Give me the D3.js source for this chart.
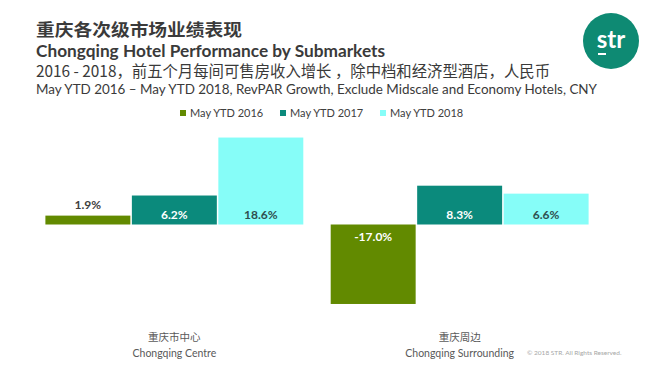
<!DOCTYPE html>
<html>
<head>
<meta charset="utf-8">
<script src="https://cdn.jsdelivr.net/npm/d3@7"></script>
<style>
  html, body { margin: 0; padding: 0; background: #ffffff; }
  svg { display: block; }
</style>
</head>
<body>
<svg id="chart" width="650" height="365"></svg>
<script>
// ---- data ----
const categories = ["Chongqing Centre", "Chongqing Surrounding"];
const categoryCN = ["重庆市中心", "重庆周边"];
const series = ["May YTD 2016", "May YTD 2017", "May YTD 2018"];
const values2016 = [1.9, -17.0];
const values2017 = [6.2, 8.3];
const values2018 = [18.6, 6.6];
const seriesValues = [values2016, values2017, values2018];

const colors = ["#628a00", "#0b8a7c", "#86fdf8"];
const labelColors = ["#404040", "#ffffff", "#2f4f4f"];
const negLabelColor = "#ffffff";

const cjk = "'Noto Sans CJK SC', 'Noto Sans', sans-serif";
const latin = "Lato, 'Open Sans', 'Noto Sans', sans-serif";

const svg = d3.select("#chart");

// ---- titles ----
svg.append("text").attr("x", 36).attr("y", 35.5)
  .attr("font-family", cjk).attr("font-weight", 700).attr("font-size", 16.5)
  .attr("fill", "#3a3a3a")
  .attr("textLength", 206).attr("lengthAdjust", "spacingAndGlyphs")
  .text("重庆各次级市场业绩表现");
svg.append("text").attr("x", 36).attr("y", 56.5)
  .attr("font-family", latin).attr("font-weight", 700).attr("font-size", 17.5)
  .attr("fill", "#3a3a3a")
  .attr("textLength", 349).attr("lengthAdjust", "spacingAndGlyphs")
  .text("Chongqing Hotel Performance by Submarkets");
svg.append("text").attr("x", 36).attr("y", 76.5)
  .attr("font-family", cjk).attr("font-size", 15.5)
  .attr("fill", "#3a3a3a")
  .attr("textLength", 514).attr("lengthAdjust", "spacingAndGlyphs")
  .text("2016 - 2018，前五个月每间可售房收入增长 ，除中档和经济型酒店，人民币");
svg.append("text").attr("x", 36).attr("y", 93.5)
  .attr("font-family", latin).attr("font-size", 13)
  .attr("fill", "#3a3a3a")
  .attr("textLength", 561).attr("lengthAdjust", "spacingAndGlyphs")
  .text("May YTD 2016 – May YTD 2018,  RevPAR Growth, Exclude Midscale and Economy Hotels, CNY");

// ---- logo ----
const logo = svg.append("g").attr("transform", "translate(611,41)");
logo.append("circle").attr("r", 28).attr("fill", "#0e8a73");
logo.append("text").attr("x", 0).attr("y", 7).attr("text-anchor", "middle")
  .attr("font-family", latin).attr("font-weight", 700).attr("font-size", 24).attr("fill", "#ffffff")
  .text("str");
logo.append("line").attr("x1", -13).attr("x2", -5).attr("y1", 13).attr("y2", 13)
  .attr("stroke", "#ffffff").attr("stroke-width", 2);

// ---- legend ----
const legend = svg.append("g").attr("transform", "translate(180,113)");
series.forEach((s, i) => {
  const g = legend.append("g").attr("transform", `translate(${i * 100},0)`);
  g.append("rect").attr("x", 0).attr("y", -3).attr("width", 6).attr("height", 6)
    .attr("fill", colors[i]);
  g.append("text").attr("x", 10).attr("y", 4)
    .attr("font-family", latin).attr("font-size", 11).attr("fill", "#404040")
    .text(s);
});

// ---- scales ----
const x0 = d3.scaleBand().domain(categories).range([31.7, 602.3])
  .paddingInner(0.096).paddingOuter(0.048);
const x1 = d3.scaleBand().domain(series).range([0, x0.bandwidth()])
  .paddingInner(0.0175);
const y = d3.scaleLinear().domain([-20, 20]).range([318, 131]);

const flat = [];
categories.forEach((c, ci) => series.forEach((s, si) => {
  flat.push({ cat: c, ser: s, si, v: seriesValues[si][ci] });
}));

// ---- bars ----
const barG = svg.append("g");
barG.selectAll("rect").data(flat).join("rect")
  .attr("x", d => x0(d.cat) + x1(d.ser))
  .attr("width", x1.bandwidth())
  .attr("y", d => Math.min(y(d.v), y(0)))
  .attr("height", d => Math.abs(y(d.v) - y(0)))
  .attr("fill", d => colors[d.si]);

// ---- value labels ----
barG.selectAll("text").data(flat).join("text")
  .attr("x", d => x0(d.cat) + x1(d.ser) + x1.bandwidth() / 2)
  .attr("y", d => {
    const h = Math.abs(y(d.v) - y(0));
    if (d.v < 0) return y(0) + 16;
    if (h < 20) return y(d.v) - 7;
    return y(0) - 5.5;
  })
  .attr("text-anchor", "middle")
  .attr("font-family", latin).attr("font-weight", 700).attr("font-size", 12)
  .attr("fill", d => {
    const h = Math.abs(y(d.v) - y(0));
    if (d.v < 0) return negLabelColor;
    if (h < 20) return "#404040";
    return labelColors[d.si];
  })
  .text(d => d.v.toFixed(1) + "%");

// ---- category axis ----
const axis = svg.append("g").attr("transform", "translate(0,325)")
  .call(d3.axisBottom(x0).tickSize(0).tickPadding(0));
axis.select(".domain").remove();
axis.selectAll(".tick text").each(function(d, i) {
  const t = d3.select(this);
  t.text(null).attr("y", 0).attr("dy", null).attr("fill", "#595959");
  t.append("tspan").attr("x", 0).attr("y", 16)
    .attr("font-family", cjk).attr("font-size", 10.5)
    .text(categoryCN[i]);
  t.append("tspan").attr("x", 0).attr("y", 32)
    .attr("font-family", latin).attr("font-size", 10.5)
    .text(d);
});

// ---- footer ----
svg.append("text").attr("x", 527).attr("y", 354.5)
  .attr("font-family", latin).attr("font-size", 6.5).attr("fill", "#a6a6a6")
  .text("© 2018 STR. All Rights Reserved.");
</script>
</body>
</html>
